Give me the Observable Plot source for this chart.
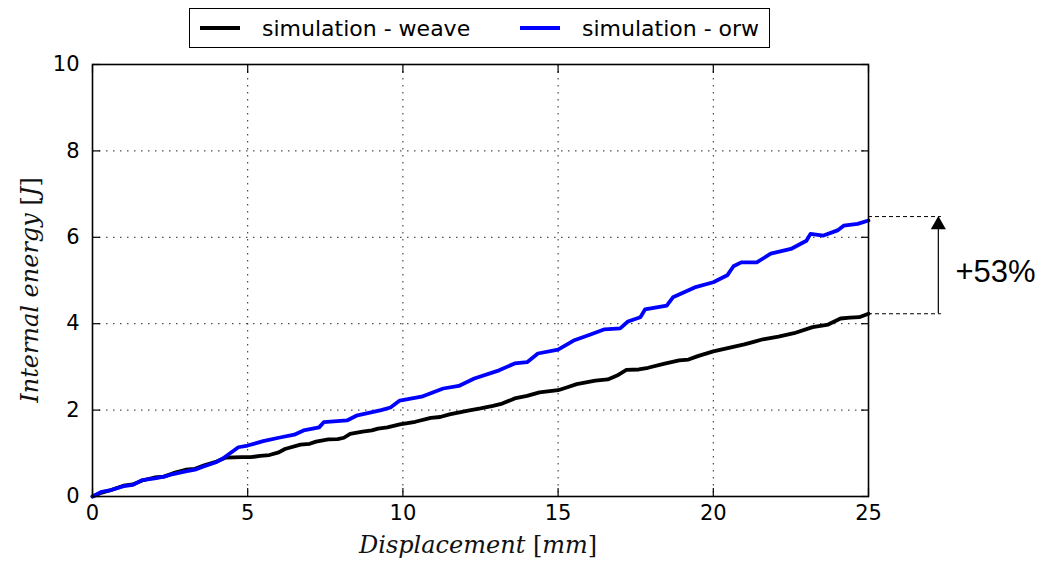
<!DOCTYPE html>
<html>
<head>
<meta charset="utf-8">
<script src="https://cdn.jsdelivr.net/npm/d3@7"></script>
<script src="https://cdn.jsdelivr.net/npm/@observablehq/plot@0.6"></script>
<style>
  html, body { margin: 0; padding: 0; background: #fff; }
  #wrap { position: relative; width: 1045px; height: 568px; overflow: hidden; }
  #chart svg { display: block; }
  #legend { position: absolute; left: 189px; top: 8px; width: 579px; height: 38px;
    border: 1.5px solid #000; font-family: "DejaVu Sans", sans-serif; font-size: 22px; background: #fff; }
  .item { position: absolute; top: 0; height: 38px; display: flex; align-items: center; }
  .swatch { display: inline-block; width: 40px; height: 4px; margin-right: 22px; }
  .xlab, .ylab { position: absolute; font-family: "DejaVu Serif", serif; font-size: 24px; white-space: nowrap; color: #111; }
  .xlab i, .ylab i { font-style: italic; }
</style>
</head>
<body>
<div id="wrap">
  <div id="chart"></div>
  <div id="legend"></div>
  <div class="xlab" id="xlab"><i>Displacement</i> [<i>mm</i>]</div>
  <div class="ylab" id="ylab"><i>Internal energy</i> [<i>J</i>]</div>
</div>
<script>
// ---- data ----
const seriesNames = ["simulation - weave", "simulation - orw"];
const seriesColors = ["#000000", "#0000ff"];

const weaveX = [0, 0.3, 0.6, 1, 1.3, 1.6, 2, 2.3, 2.6, 3, 3.3, 3.6, 4, 4.3, 4.8, 5.1, 5.4, 5.7, 6.0, 6.2, 6.7, 7.0, 7.2, 7.6, 7.9, 8.1, 8.3, 8.7, 9.0, 9.2, 9.5, 9.9, 10.4, 10.9, 11.2, 11.5, 12.1, 12.5, 12.9, 13.2, 13.6, 14.0, 14.4, 15.0, 15.3, 15.6, 16.2, 16.6, 16.9, 17.2, 17.6, 17.9, 18.4, 18.9, 19.2, 19.5, 20.0, 20.5, 21.0, 21.3, 21.6, 22.1, 22.6, 23.2, 23.7, 24.1, 24.4, 24.7, 25];
const weaveY = [0, 0.09, 0.15, 0.25, 0.28, 0.37, 0.44, 0.46, 0.54, 0.62, 0.64, 0.72, 0.81, 0.9, 0.91, 0.91, 0.94, 0.96, 1.02, 1.1, 1.2, 1.22, 1.27, 1.32, 1.33, 1.36, 1.45, 1.5, 1.53, 1.57, 1.6, 1.67, 1.73, 1.82, 1.84, 1.9, 1.99, 2.04, 2.1, 2.15, 2.27, 2.33, 2.41, 2.46, 2.53, 2.6, 2.68, 2.71, 2.8, 2.93, 2.94, 2.98, 3.07, 3.15, 3.17, 3.25, 3.36, 3.44, 3.52, 3.58, 3.64, 3.7, 3.78, 3.92, 3.98, 4.12, 4.14, 4.15, 4.23];

const orwX = [0, 0.3, 0.6, 1, 1.3, 1.6, 2, 2.3, 2.6, 3, 3.3, 3.6, 4, 4.2, 4.7, 5.0, 5.5, 6.0, 6.5, 6.8, 7.3, 7.45, 8.2, 8.5, 9.3, 9.6, 9.9, 10.6, 11.3, 11.8, 12.3, 13.1, 13.6, 14.0, 14.35, 15.0, 15.5, 16.0, 16.5, 17.0, 17.25, 17.65, 17.8, 18.5, 18.7, 19.4, 20.0, 20.45, 20.65, 20.9, 21.4, 21.85, 22.5, 23.0, 23.13, 23.55, 24.0, 24.2, 24.65, 25];
const orwY = [0, 0.11, 0.15, 0.24, 0.27, 0.38, 0.42, 0.46, 0.52, 0.58, 0.62, 0.7, 0.8, 0.88, 1.14, 1.18, 1.28, 1.36, 1.43, 1.53, 1.6, 1.72, 1.76, 1.87, 2.0, 2.06, 2.22, 2.31, 2.5, 2.56, 2.73, 2.92, 3.08, 3.11, 3.31, 3.4, 3.61, 3.74, 3.87, 3.89, 4.05, 4.15, 4.33, 4.42, 4.61, 4.84, 4.96, 5.12, 5.33, 5.42, 5.42, 5.62, 5.73, 5.92, 6.08, 6.04, 6.16, 6.27, 6.31, 6.39];

const xTicks = [0, 5, 10, 15, 20, 25];
const yTicks = [0, 2, 4, 6, 8, 10];
const xGrid = [5, 10, 15, 20];
const yGrid = [2, 4, 6, 8];

// annotation (+53% difference between the two end values)
const annotLevels = [6.48, 4.23];
const annotFromX = 25;
const annotToX = 27.35;
const annotArrowX = 27.25;
const annotText = "+53%";
const annotTextX = 27.8;
const annotTextY = 5.2;

// ---- build ----
const weave = weaveX.map((x, i) => ({x, y: weaveY[i], s: seriesNames[0]}));
const orw = orwX.map((x, i) => ({x, y: orwY[i], s: seriesNames[1]}));
const annotRows = annotLevels.map(v => ({v}));

const W = 1045, H = 568;
const mL = 92, mR = 177, mT = 64, mB = 72;

const axisFont = {fontSize: 21, fontFamily: "DejaVu Sans"};

const chart = Plot.plot({
  width: W, height: H,
  marginLeft: mL, marginRight: mR, marginTop: mT, marginBottom: mB,
  style: {background: "#fff", color: "#000", fontFamily: "DejaVu Sans", fontSize: "20px", overflow: "visible"},
  x: {domain: [0, 25]},
  y: {domain: [0, 10]},
  marks: [
    Plot.gridX(xGrid, {stroke: "#000", strokeOpacity: 0.85, strokeDasharray: "1.5,5.5", strokeWidth: 1}),
    Plot.gridY(yGrid, {stroke: "#000", strokeOpacity: 0.85, strokeDasharray: "1.5,5.5", strokeWidth: 1}),
    // annotation dashed guides
    Plot.ruleY(annotRows, {y: "v", x1: annotFromX, x2: annotToX, stroke: "#000", strokeWidth: 1, strokeDasharray: "4,3", clip: false}),
    Plot.ruleX([annotArrowX], {y1: annotLevels[1], y2: annotLevels[0] - 0.2, stroke: "#000", strokeWidth: 1.2}),
    Plot.dot([annotArrowX], {x: d => d, y: annotLevels[0] - 0.19, symbol: "triangle", r: 5.6, fill: "#000", stroke: "none"}),
    Plot.text([annotText], {x: annotTextX, y: annotTextY, text: d => d, textAnchor: "start", fontSize: 31, fontFamily: "Liberation Sans", fill: "#000"}),
    // series lines
    Plot.line(weave, {x: "x", y: "y", stroke: seriesColors[0], strokeWidth: 3.8, strokeLinejoin: "round"}),
    Plot.line(orw, {x: "x", y: "y", stroke: seriesColors[1], strokeWidth: 3.8, strokeLinejoin: "round"}),
    // axes: labels
    Plot.axisX(xTicks, {anchor: "bottom", tickSize: 0, tickPadding: 9, label: null, ...axisFont}),
    Plot.axisY(yTicks, {anchor: "left", tickSize: 0, tickPadding: 13, label: null, ...axisFont}),
    // inward ticks on all four sides
    Plot.axisX(xTicks, {anchor: "bottom", tickSize: 8, dy: -8, tickFormat: () => "", label: null, strokeWidth: 1.2}),
    Plot.axisX(xTicks, {anchor: "top", tickSize: 8, dy: 8, tickFormat: () => "", label: null, strokeWidth: 1.2}),
    Plot.axisY(yTicks, {anchor: "left", tickSize: 8, dx: 8, tickFormat: () => "", label: null, strokeWidth: 1.2}),
    Plot.axisY(yTicks, {anchor: "right", tickSize: 8, dx: -8, tickFormat: () => "", label: null, strokeWidth: 1.2}),
    Plot.frame({stroke: "#000", strokeWidth: 1.6})
  ]
});
document.getElementById("chart").appendChild(chart);

// legend
const legend = document.getElementById("legend");
const legendPos = [10, 330];
seriesNames.forEach((name, i) => {
  const it = document.createElement("div");
  it.className = "item";
  it.style.left = legendPos[i] + "px";
  const sw = document.createElement("span");
  sw.className = "swatch";
  sw.style.background = seriesColors[i];
  it.appendChild(sw);
  it.appendChild(document.createTextNode(name));
  legend.appendChild(it);
});

// axis titles
const xlab = document.getElementById("xlab");
xlab.style.left = (478 - xlab.offsetWidth / 2) + "px";
xlab.style.top = (H - 37) + "px";
const ylab = document.getElementById("ylab");
ylab.style.left = (30 - ylab.offsetWidth / 2) + "px";
ylab.style.top = (290 - ylab.offsetHeight / 2) + "px";
ylab.style.transform = "rotate(-90deg)";
</script>
</body>
</html>
